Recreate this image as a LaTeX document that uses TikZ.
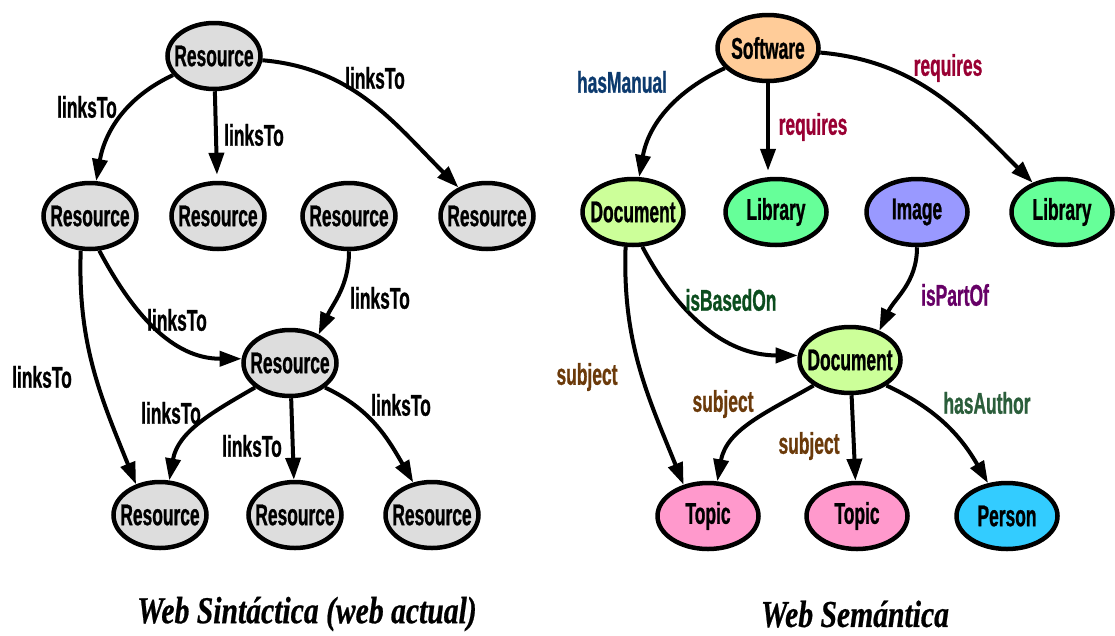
\documentclass[tikz,border=0pt]{standalone}
\usepackage{fontspec}
\usetikzlibrary{shapes.geometric,arrows.meta}
\newfontfamily\lblfont[UprightFont={* Bold},FakeStretch=0.58,FakeBold=0.8]{Liberation Sans}
\newfontfamily\capfont[UprightFont={* Bold Italic},FakeStretch=0.78,FakeBold=0.6]{Liberation Serif}
% zero-width box so the ellipse size is set by the minimum sizes only
\newcommand\ctext[1]{\makebox[0pt]{#1}}

\definecolor{resfill}{HTML}{DDDDDD}
\definecolor{swfill}{HTML}{FFCC99}
\definecolor{docfill}{HTML}{CCFF99}
\definecolor{libfill}{HTML}{66FF99}
\definecolor{imgfill}{HTML}{9999FF}
\definecolor{topfill}{HTML}{FF99CC}
\definecolor{perfill}{HTML}{33CCFF}
\definecolor{cManual}{HTML}{0C3A6E}
\definecolor{cRequires}{HTML}{990033}
\definecolor{cSubject}{HTML}{6B3A0A}
\definecolor{cBased}{HTML}{0B4D1E}
\definecolor{cPart}{HTML}{660066}
\definecolor{cAuthor}{HTML}{2B5E3B}

\tikzset{
  txt/.style={font=\lblfont\fontsize{30}{32}\selectfont},
  res/.style={txt, ellipse, draw, line width=4.5pt, inner sep=0pt,
              minimum width=93pt, minimum height=66pt, fill=resfill},
  sem/.style={res, minimum width=101pt},
  edge/.style={line width=4pt, -{Triangle[length=22pt,width=15pt]}},
  lbl/.style={txt, inner sep=0pt},
  caption/.style={font=\capfont\fontsize{38}{40}\selectfont, inner sep=0pt}
}

\begin{document}
\begin{tikzpicture}[x=1pt,y=1pt]
\useasboundingbox (0,0) rectangle (1115,-635);

% ---- syntactic web ----
\node[res] (R0) at (214,-56)  {\ctext{Resource}};
\node[res] (R1) at (90,-216)  {\ctext{Resource}};
\node[res] (R2) at (218,-216) {\ctext{Resource}};
\node[res] (R3) at (349,-216) {\ctext{Resource}};
\node[res] (R4) at (487,-216) {\ctext{Resource}};
\node[res] (R5) at (290,-363) {\ctext{Resource}};
\node[res] (R6) at (160,-515) {\ctext{Resource}};
\node[res] (R7) at (295,-515) {\ctext{Resource}};
\node[res] (R8) at (432,-515) {\ctext{Resource}};

\draw[edge] (R0) to[out=205,in=80] (R1);
\draw[edge, shorten >=6pt] (R0) -- (R2);
\draw[edge] (R0) to[out=-5,in=135] (R4);
\draw[edge] (R1.255) to[out=-92,in=112] (R6.128);
\draw[edge] (R1.285) to[out=-62,in=180] (R5.175);
\draw[edge] (R3) to[out=-90,in=65] (R5.45);
\draw[edge] (R5.215) to[out=210,in=80] (R6.75);
\draw[edge] (R5) -- (R7);
\draw[edge] (R5.325) to[out=-25,in=120] (R8.120);

\node[lbl] (l1) at (87,-107)  {linksTo};
\node[lbl] (l2) at (254,-135) {linksTo};
\node[lbl] (l3) at (375,-78)  {linksTo};
\node[lbl] (l4) at (380,-298) {linksTo};
\node[lbl] (l5) at (177,-320) {linksTo};
\node[lbl] (l6) at (42,-377)  {linksTo};
\node[lbl] (l7) at (171,-413) {linksTo};
\node[lbl] (l8) at (252,-446) {linksTo};
\node[lbl] (l9) at (401,-405) {linksTo};

% ---- semantic web ----
\node[sem, fill=swfill]  (SW) at (768,-48)  {\ctext{Software}};
\node[sem, fill=docfill] (D1) at (633,-212) {\ctext{Document}};
\node[sem, fill=libfill] (L1) at (776,-212) {\ctext{Library}};
\node[sem, fill=imgfill] (IM) at (917,-212) {\ctext{Image}};
\node[sem, fill=libfill] (L2) at (1062,-212) {\ctext{Library}};
\node[sem, fill=docfill] (D2) at (850,-360) {\ctext{Document}};
\node[sem, fill=topfill] (T1) at (708,-516) {\ctext{Topic}};
\node[sem, fill=topfill] (T2) at (857,-516) {\ctext{Topic}};
\node[sem, fill=perfill] (PE) at (1007,-516) {\ctext{Person}};

\draw[edge] (SW) to[out=205,in=80] (D1);
\draw[edge, shorten >=6pt] (SW) -- (SW |- L1.north);
\draw[edge] (SW) to[out=-5,in=135] (L2);
\draw[edge] (D1.258) to[out=-92,in=112] (T1.128);
\draw[edge] (D1.285) to[out=-62,in=180] (D2.175);
\draw[edge] (IM) to[out=-90,in=65] (D2.45);
\draw[edge] (D2.215) to[out=210,in=80] (T1.75);
\draw[edge] (D2) -- (T2);
\draw[edge] (D2.325) to[out=-25,in=120] (PE.120);

\node[lbl, text=cManual]   (m1) at (622,-82)  {hasManual};
\node[lbl, text=cRequires] (m2) at (813,-127) {requires};
\node[lbl, text=cRequires] (m3) at (948,-68)  {requires};
\node[lbl, text=cSubject]  (m4) at (587,-377) {subject};
\node[lbl, text=cBased]    (m5) at (731,-300) {isBasedOn};
\node[lbl, text=cPart]     (m6) at (955,-295) {isPartOf};
\node[lbl, text=cSubject]  (m7) at (723,-404) {subject};
\node[lbl, text=cSubject]  (m8) at (809,-446) {subject};
\node[lbl, text=cAuthor]   (m9) at (987,-403) {hasAuthor};

% ---- captions ----
\node[caption] (c1) at (307,-614) {Web Sintáctica (web actual)};
\node[caption] (c2) at (855,-614) {Web Semántica};
\end{tikzpicture}
\end{document}
